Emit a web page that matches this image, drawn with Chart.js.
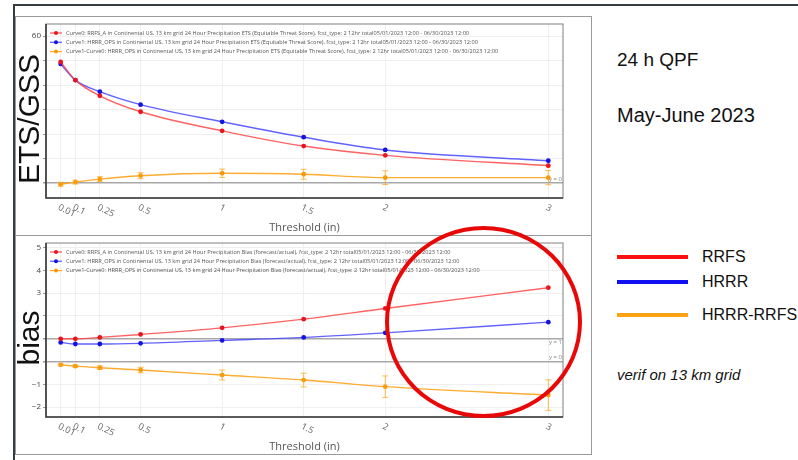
<!DOCTYPE html>
<html>
<head>
<meta charset="utf-8">
<script src="https://cdn.jsdelivr.net/npm/chart.js@4.4.1/dist/chart.umd.min.js"></script>
<style>
  html, body { margin: 0; padding: 0; background: #fff; }
  body { width: 798px; height: 460px; position: relative; overflow: hidden; font-family: "Liberation Sans", Arial, sans-serif; color: #111; }
  .abs { position: absolute; }
  .panel { position: absolute; left: 15px; width: 577px; border: 1px solid #9a9a9a; box-sizing: border-box; }
  .ytitle { position: absolute; background: #fff; }
  .ytitle span { position: absolute; left: 50%; top: 50%; transform: translate(-50%, -50%) rotate(-90deg); font-size: 30px; white-space: nowrap; line-height: 1; color: #111; }
  .key { position: absolute; left: 617px; width: 71px; height: 4px; }
  .keytxt { position: absolute; left: 702px; font-size: 16px; line-height: 1; white-space: nowrap; }
</style>
</head>
<body>
<div class="abs" style="left:13px;top:4px;width:785px;height:2px;background:#353c42"></div>
<div class="abs" style="left:13px;top:4px;width:2px;height:456px;background:#353c42"></div>
<div class="panel" style="top:16px;height:220px"></div>
<div class="panel" style="top:235px;height:220px"></div>

<canvas id="etsChart" class="abs" style="left:16px;top:17px" width="576" height="217"></canvas>
<canvas id="biasChart" class="abs" style="left:16px;top:236px" width="576" height="217"></canvas>

<div class="ytitle" style="left:16px;top:46px;width:26px;height:146px"><span>ETS/GSS</span></div>
<div class="ytitle" style="left:16px;top:297px;width:26px;height:74px"><span style="top:56%">bias</span></div>

<div class="abs" style="left:617px;top:49.5px;font-size:19px;line-height:1;white-space:nowrap">24 h QPF</div>
<div class="abs" style="left:617px;top:104.5px;font-size:20px;line-height:1;white-space:nowrap">May-June 2023</div>

<div class="key" style="top:255px;background:#ff1010"></div>
<div class="keytxt" style="top:248.7px">RRFS</div>
<div class="key" style="top:280px;background:#1010f0"></div>
<div class="keytxt" style="top:273.7px">HRRR</div>
<div class="key" style="top:313px;background:#ffa214"></div>
<div class="keytxt" style="top:307.2px">HRRR-RRFS</div>

<div class="abs" style="left:617px;top:367px;font-size:15px;font-style:italic;line-height:1;white-space:nowrap">verif on 13 km grid</div>

<div class="abs" style="left:385px;top:226px;width:197px;height:192px;box-sizing:border-box;border:4.5px solid #e80808;border-radius:50%"></div>

<script>
const thresholds = [0.01, 0.1, 0.25, 0.5, 1, 1.5, 2, 3];
const thresholdLabels = ["0.01", "0.1", "0.25", "0.5", "1", "1.5", "2", "3"];

// ETS
const etsRRFS = [49.4, 42.0, 35.6, 29.1, 21.3, 15.1, 11.3, 7.1];
const etsHRRR = [48.6, 42.0, 37.3, 32.0, 25.0, 18.7, 13.5, 9.1];
const etsDiff = [-0.5, 0.4, 1.6, 3.0, 4.0, 3.6, 2.2, 2.2];
const etsDiffErr = [0.8, 0.8, 1.0, 1.2, 1.7, 2.0, 2.8, 2.9];

// bias
const biasRRFS = [1.0, 1.0, 1.06, 1.19, 1.48, 1.86, 2.33, 3.24];
const biasHRRR = [0.84, 0.77, 0.77, 0.8, 0.93, 1.06, 1.26, 1.73];
const biasDiff = [-0.14, -0.2, -0.27, -0.37, -0.59, -0.81, -1.1, -1.47];
const biasDiffErr = [0.04, 0.05, 0.08, 0.12, 0.22, 0.3, 0.47, 0.67];

const etsLegend = [
  "Curve0: RRFS_A in Continental US, 13 km grid 24 Hour Precipitation ETS (Equitable Threat Score), fcst_type: 2 12hr total05/01/2023 12:00 - 06/30/2023 12:00",
  "Curve1: HRRR_OPS in Continental US, 13 km grid 24 Hour Precipitation ETS (Equitable Threat Score), fcst_type: 2 12hr total05/01/2023 12:00 - 06/30/2023 12:00",
  "Curve1-Curve0: HRRR_OPS in Continental US, 13 km grid 24 Hour Precipitation ETS (Equitable Threat Score), fcst_type: 2 12hr total05/01/2023 12:00 - 06/30/2023 12:00",
];
const biasLegend = [
  "Curve0: RRFS_A in Continental US, 13 km grid 24 Hour Precipitation Bias (forecast/actual), fcst_type: 2 12hr total05/01/2023 12:00 - 06/30/2023 12:00",
  "Curve1: HRRR_OPS in Continental US, 13 km grid 24 Hour Precipitation Bias (forecast/actual), fcst_type: 2 12hr total05/01/2023 12:00 - 06/30/2023 12:00",
  "Curve1-Curve0: HRRR_OPS in Continental US, 13 km grid 24 Hour Precipitation Bias (forecast/actual), fcst_type: 2 12hr total05/01/2023 12:00 - 06/30/2023 12:00",
];

const lineColors = ["rgba(255,70,70,0.85)", "rgba(70,70,255,0.85)", "rgba(255,163,26,0.9)"];
const dotColors = ["#e8141e", "#1414e0", "#f59a0c"];
const FONT = "'Open Sans', 'DejaVu Sans', sans-serif";

const decor = {
  id: "decor",
  afterDatasetsDraw(chart, args, opts) {
    const { ctx } = chart;
    const xs = chart.scales.x;
    const ys = chart.scales.y;
    ctx.save();
    ctx.strokeStyle = "rgba(255,163,26,0.75)";
    ctx.lineWidth = 1;
    opts.errs.forEach((e, i) => {
      const px = xs.getPixelForValue(thresholds[i]);
      const y0 = ys.getPixelForValue(opts.diff[i] - e);
      const y1 = ys.getPixelForValue(opts.diff[i] + e);
      ctx.beginPath();
      ctx.moveTo(px, y0); ctx.lineTo(px, y1);
      ctx.moveTo(px - 3, y0); ctx.lineTo(px + 3, y0);
      ctx.moveTo(px - 3, y1); ctx.lineTo(px + 3, y1);
      ctx.stroke();
    });
    ctx.restore();
  },
  afterDraw(chart, args, opts) {
    const { ctx, chartArea: a } = chart;
    const xs = chart.scales.x;
    const ys = chart.scales.y;
    ctx.save();
    // plot frame
    ctx.strokeStyle = "#808080";
    ctx.lineWidth = 1;
    ctx.strokeRect(a.left, a.top, a.right - a.left, a.bottom - a.top);
    ctx.strokeStyle = "#3a3a3a";
    ctx.lineWidth = 1.6;
    ctx.beginPath();
    ctx.moveTo(a.left, a.top); ctx.lineTo(a.left, a.bottom); ctx.lineTo(a.right, a.bottom);
    ctx.stroke();

    // legend
    ctx.font = "5.6px " + FONT;
    ctx.textBaseline = "middle";
    ctx.textAlign = "left";
    opts.legend.forEach((t, i) => {
      const y = a.top + 9 + i * 9.3;
      ctx.strokeStyle = lineColors[i];
      ctx.lineWidth = 1.3;
      ctx.beginPath(); ctx.moveTo(a.left + 4, y); ctx.lineTo(a.left + 16, y); ctx.stroke();
      ctx.fillStyle = dotColors[i];
      ctx.beginPath(); ctx.arc(a.left + 10, y, 2, 0, Math.PI * 2); ctx.fill();
      ctx.fillStyle = "#555";
      ctx.fillText(t, a.left + 20, y);
    });

    // reference line labels
    ctx.font = "6px " + FONT;
    ctx.fillStyle = "#888";
    ctx.textAlign = "right";
    opts.refs.forEach((r) => {
      const py = ys.getPixelForValue(r.v);
      ctx.textBaseline = r.below ? "top" : "bottom";
      ctx.fillText("y = " + r.v, a.right - 1, r.below ? py + 1 : py - 1);
    });

    // rotated x tick labels
    ctx.font = "9px " + FONT;
    ctx.fillStyle = "#666";
    ctx.textAlign = "left";
    ctx.textBaseline = "middle";
    thresholds.forEach((v, i) => {
      const px = xs.getPixelForValue(v);
      ctx.save();
      ctx.translate(px - 2, a.bottom + 9);
      ctx.rotate(Math.PI * 26 / 180);
      ctx.fillText(thresholdLabels[i], 0, 0);
      ctx.restore();
    });
    ctx.restore();
  },
};

function makeChart(id, series, errs, legend, yMin, yMax, step, refs) {
  const refVals = refs.map((r) => r.v);
  new Chart(document.getElementById(id), {
    type: "line",
    data: {
      datasets: series.map((vals, k) => ({
        data: thresholds.map((x, i) => ({ x, y: vals[i] })),
        borderColor: lineColors[k],
        borderWidth: 1.4,
        pointRadius: 2.4,
        pointBorderWidth: 0,
        pointBackgroundColor: dotColors[k],
        cubicInterpolationMode: "monotone",
        fill: false,
      })),
    },
    options: {
      responsive: false,
      animation: false,
      layout: { padding: { top: 7, right: 29, left: 0, bottom: 0 } },
      plugins: {
        legend: { display: false },
        tooltip: { enabled: false },
        decor: { legend, errs, diff: series[2], refs },
      },
      scales: {
        x: {
          type: "linear",
          min: -0.08,
          max: 3.09,
          afterBuildTicks: (s) => { s.ticks = thresholds.map((v) => ({ value: v })); },
          afterFit: (s) => { s.height = 36; },
          ticks: { display: false },
          grid: { color: "#efefef", drawTicks: false },
          border: { display: false },
          title: { display: true, text: "Threshold (in)", color: "#555", font: { family: FONT, size: 11 }, padding: 0 },
        },
        y: {
          min: yMin,
          max: yMax,
          afterFit: (s) => { s.width = 30; },
          ticks: {
            stepSize: step,
            includeBounds: false,
            color: "#444",
            padding: 2,
            font: { family: FONT, size: 8 },
            callback: (v) => (v < 0 ? "\u2212" + Math.abs(v) : String(v)),
          },
          grid: {
            color: (c) => (c.tick && refVals.includes(c.tick.value) ? "#a8a8a8" : "#efefef"),
            lineWidth: (c) => (c.tick && refVals.includes(c.tick.value) ? 1.5 : 1),
            tickLength: 3,
            tickColor: "#999",
          },
          border: { display: false },
        },
      },
    },
    plugins: [decor],
  });
}

makeChart("etsChart", [etsRRFS, etsHRRR, etsDiff], etsDiffErr, etsLegend, -6.1, 64.9, 10, [{ v: 0, below: false }]);
makeChart("biasChart", [biasRRFS, biasHRRR, biasDiff], biasDiffErr, biasLegend, -2.43, 5.2, 1, [{ v: 1, below: true }, { v: 0, below: false }]);
</script>
</body>
</html>
